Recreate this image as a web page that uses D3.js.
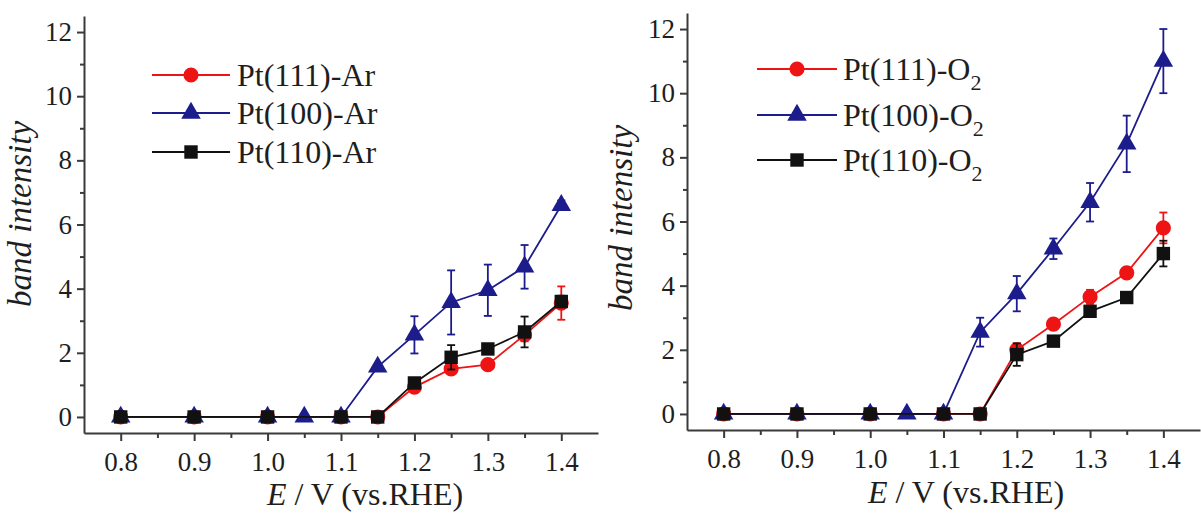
<!DOCTYPE html>
<html>
<head>
<meta charset="utf-8">
<script src="https://cdn.jsdelivr.net/npm/d3@7"></script>
<style>
  body { margin: 0; background: #fff; }
  svg { display: block; }
  text { font-family: "Liberation Serif", "Tinos", "Times New Roman", "DejaVu Serif", serif; fill: #1e1e1e; }
</style>
</head>
<body>
<svg id="chart" width="1201" height="515"></svg>
<script>
// axis ticks
const xTicks = [0.8, 0.9, 1.0, 1.1, 1.2, 1.3, 1.4];
const xMinor = [0.85, 0.95, 1.05, 1.15, 1.25, 1.35];
const yTicks = [0, 2, 4, 6, 8, 10, 12];
const yMinor = [1, 3, 5, 7, 9, 11];

// potentials (V vs RHE)
const potA = [0.8, 0.9, 1.0, 1.1, 1.15, 1.2, 1.25, 1.3, 1.35, 1.4];
const potB = [0.8, 0.9, 1.0, 1.05, 1.1, 1.15, 1.2, 1.25, 1.3, 1.35, 1.4];

// Ar saturated
const ar111    = [0, 0, 0, 0, 0, 0.93, 1.5, 1.63, 2.56, 3.55];
const ar111Err = [0, 0, 0, 0, 0, 0, 0.12, 0, 0.2, 0.52];
const ar100    = [0, 0, 0, 0, 0, 1.56, 2.56, 3.57, 3.95, 4.68, 6.6];
const ar100Err = [0, 0, 0, 0, 0, 0, 0.58, 1.0, 0.8, 0.68, 0.15];
const ar110    = [0, 0, 0, 0, 0, 1.06, 1.86, 2.12, 2.65, 3.6];
const ar110Err = [0, 0, 0, 0, 0, 0, 0.38, 0, 0.48, 0.18];

// O2 saturated
const o2111    = [0, 0, 0, 0, 0, 2.0, 2.8, 3.65, 4.4, 5.8];
const o2111Err = [0, 0, 0, 0, 0, 0.2, 0, 0.22, 0, 0.48];
const o2100    = [0, 0, 0, 0, 0, 2.55, 3.75, 5.15, 6.6, 8.42, 11.0];
const o2100Err = [0, 0, 0, 0, 0, 0.45, 0.55, 0.32, 0.6, 0.88, 1.0];
const o2110    = [0, 0, 0, 0, 0, 1.85, 2.27, 3.2, 3.63, 5.0];
const o2110Err = [0, 0, 0, 0, 0, 0.35, 0, 0.15, 0, 0.4];

const red = '#ee1414', blue = '#1c1c8c', black = '#111';
const serif = '"Liberation Serif", "Tinos", "Times New Roman", "DejaVu Serif", serif';

const svg = d3.select('#chart');

const zip = (xs, ys, es) => xs.map((x, i) => ({x: x, y: ys[i], e: es[i]}));

function drawPanel(cfg) {
    const x = d3.scaleLinear().domain([0.75, 1.45]).range(cfg.xRange);
    const y = d3.scaleLinear().domain([-0.5, 12.5]).range(cfg.yRange);
    const g = svg.append('g');

    // y axis
    g.append('g')
        .attr('transform', `translate(${cfg.xRange[0]},0)`)
        .call(d3.axisLeft(y).tickValues(yMinor).tickSize(4).tickFormat('').tickSizeOuter(0))
        .call(a => a.select('.domain').remove());
    g.append('g')
        .attr('transform', `translate(${cfg.xRange[0]},0)`)
        .call(d3.axisLeft(y).tickValues(yTicks).tickSize(7).tickPadding(5).tickSizeOuter(0))
        .attr('font-size', 27);

    // x axis
    g.append('g')
        .attr('transform', `translate(0,${cfg.yRange[0]})`)
        .call(d3.axisBottom(x).tickValues(xMinor).tickSize(5).tickFormat('').tickSizeOuter(0))
        .call(a => a.select('.domain').remove());
    g.append('g')
        .attr('transform', `translate(0,${cfg.yRange[0]})`)
        .call(d3.axisBottom(x).tickValues(xTicks).tickSize(8).tickPadding(11)
            .tickFormat(d3.format('.1f')).tickSizeOuter(0))
        .attr('font-size', 27);

    g.selectAll('.domain, .tick line').attr('stroke', '#3a3a3a').attr('stroke-width', 2);
    g.selectAll('.tick text').attr('fill', '#1e1e1e');
    g.selectAll('g').attr('font-family', serif);

    // axis titles
    g.append('text')
        .attr('transform', `translate(${cfg.yTitleX},${cfg.yTitleY}) rotate(-90)`)
        .attr('text-anchor', 'middle')
        .attr('font-size', 33)
        .attr('font-style', 'italic')
        .text('band intensity');

    const xt = g.append('text')
        .attr('x', cfg.xTitleX)
        .attr('y', cfg.xTitleY)
        .attr('text-anchor', 'middle')
        .attr('font-size', 32);
    xt.append('tspan').attr('font-style', 'italic').text('E');
    xt.append('tspan').text(' / V (vs.RHE)');

    const line = d3.line().x(d => x(d.x)).y(d => y(d.y));

    cfg.series.forEach(s => {
        const pts = zip(s.xs, s.ys, s.es);
        g.append('path')
            .datum(pts)
            .attr('fill', 'none')
            .attr('stroke', s.color)
            .attr('stroke-width', 1.8)
            .attr('d', line);

        // error bars
        const eb = g.append('g').attr('stroke', s.color).attr('stroke-width', 1.8);
        pts.filter(d => d.e > 0).forEach(d => {
            const cx = x(d.x), y0 = y(d.y - d.e), y1 = y(d.y + d.e);
            eb.append('line').attr('x1', cx).attr('x2', cx).attr('y1', y0).attr('y2', y1);
            eb.append('line').attr('x1', cx - 4).attr('x2', cx + 4).attr('y1', y0).attr('y2', y0);
            eb.append('line').attr('x1', cx - 4).attr('x2', cx + 4).attr('y1', y1).attr('y2', y1);
        });

        g.append('g').selectAll('path')
            .data(pts)
            .join('path')
            .attr('transform', d => `translate(${x(d.x)},${y(d.y)})`)
            .attr('d', d3.symbol().type(s.symbol).size(s.size))
            .attr('fill', s.color);
    });

    // legend
    cfg.series.forEach((s, i) => {
        const ry = cfg.legend.rows[i];
        g.append('line')
            .attr('x1', cfg.legend.x0).attr('x2', cfg.legend.x1)
            .attr('y1', ry).attr('y2', ry)
            .attr('stroke', s.color).attr('stroke-width', 1.8);
        g.append('path')
            .attr('transform', `translate(${(cfg.legend.x0 + cfg.legend.x1) / 2},${ry})`)
            .attr('d', d3.symbol().type(s.symbol).size(s.size))
            .attr('fill', s.color);
        const t = g.append('text')
            .attr('x', cfg.legend.tx)
            .attr('y', ry)
            .attr('dy', '0.35em')
            .attr('font-size', 32);
        t.append('tspan').text(s.label);
        if (s.sub) {
            t.append('tspan').attr('font-size', 22).attr('dy', 10).text(s.sub);
        }
    });
}

const circle = d3.symbolCircle, tri = d3.symbolTriangle, sq = d3.symbolSquare;

drawPanel({
    xRange: [84, 598], yRange: [433, 16],
    yTitleX: 31, yTitleY: 214, xTitleX: 365, xTitleY: 505,
    legend: {x0: 152, x1: 230, tx: 237, rows: [75, 113, 152]},
    series: [
        {label: 'Pt(111)-Ar', xs: potA, ys: ar111, es: ar111Err, color: red, symbol: circle, size: 180},
        {label: 'Pt(100)-Ar', xs: potB, ys: ar100, es: ar100Err, color: blue, symbol: tri, size: 165},
        {label: 'Pt(110)-Ar', xs: potA, ys: ar110, es: ar110Err, color: black, symbol: sq, size: 180}
    ]
});

drawPanel({
    xRange: [687, 1200], yRange: [430, 13],
    yTitleX: 632, yTitleY: 218, xTitleX: 966, xTitleY: 503,
    legend: {x0: 757, x1: 837, tx: 843, rows: [69, 115, 160]},
    series: [
        {label: 'Pt(111)-O', sub: '2', xs: potA, ys: o2111, es: o2111Err, color: red, symbol: circle, size: 180},
        {label: 'Pt(100)-O', sub: '2', xs: potB, ys: o2100, es: o2100Err, color: blue, symbol: tri, size: 165},
        {label: 'Pt(110)-O', sub: '2', xs: potA, ys: o2110, es: o2110Err, color: black, symbol: sq, size: 180}
    ]
});
</script>
</body>
</html>
